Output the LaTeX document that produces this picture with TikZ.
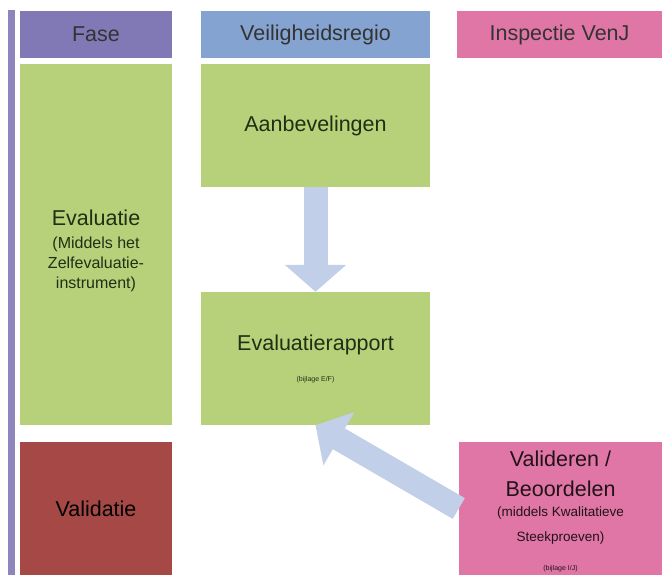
\documentclass[tikz,border=0pt]{standalone}
\usepackage{fontspec}
\setmainfont{Liberation Sans}
\usetikzlibrary{arrows.meta}
\definecolor{paars}{RGB}{128, 121, 181}
\definecolor{blauw}{RGB}{133, 163, 208}
\definecolor{roze}{RGB}{224, 118, 166}
\definecolor{groen}{RGB}{183, 209, 122}
\definecolor{rood}{RGB}{166, 73, 70}
\definecolor{pijl}{RGB}{193, 207, 233}
\definecolor{tekstgroen}{RGB}{30, 48, 20}

\tikzset{
  kop/.style={inner sep=0pt, text=black!80, font=\fontsize{21.5}{25}\selectfont},
  vak/.style={inner sep=0pt, align=center, font=\fontsize{21.5}{25}\selectfont},
  pijlvorm/.style={pijl, line width=24pt, -{Triangle[length=27pt, width=60pt]}}
}

\begin{document}
\begin{tikzpicture}[x=1pt, y=-1pt]
        \useasboundingbox (0,0) rectangle (662,575);
        \fill[paars!90] (8,10) rectangle (15,575);
        % kolomkoppen
        \node[kop, fill=paars, minimum width=152pt, minimum height=47pt] (fase) at (96,34.5) {Fase};
        \node[kop, fill=blauw, minimum width=229pt, minimum height=47pt] (regio) at (315.5,34.5) {Veiligheidsregio};
        \node[kop, fill=roze, minimum width=205pt, minimum height=47pt] (inspectie) at (559.5,34.5) {Inspectie VenJ};
        % fasen
        \node[vak, fill=groen, text=tekstgroen, minimum width=152pt, minimum height=361pt] (evaluatie) at (96,244.5)
            {\rule{0pt}{28pt}Evaluatie\\[-2pt] \fontsize{16}{20}\selectfont (Middels het\\[-5pt] \fontsize{16}{20}\selectfont Zelfevaluatie-\\[-5pt] \fontsize{16}{20}\selectfont instrument)};
        \node[vak, fill=rood, text=black, minimum width=152pt, minimum height=133pt] (validatie) at (96,508.5) {Validatie};
        % veiligheidsregio
        \node[vak, fill=groen, text=tekstgroen, minimum width=229pt, minimum height=123pt] (aanbevelingen) at (315.5,125.5) {Aanbevelingen};
        \node[vak, fill=groen, text=tekstgroen, minimum width=229pt, minimum height=133pt] (rapport) at (315.5,358.5)
            {Evaluatierapport\\[6pt] \fontsize{7}{8}\selectfont (bijlage E/F)};
        % inspectie
        \node[vak, fill=roze, text=black!85!roze, minimum width=203pt, minimum height=133pt] (valideren) at (560.5,508.5)
            {\rule{0pt}{22pt}Valideren /\\[5pt] Beoordelen\\[-5pt] \fontsize{13.5}{22}\selectfont (middels Kwalitatieve\\ \fontsize{13.5}{22}\selectfont Steekproeven)\\[4pt] \fontsize{7}{8}\selectfont (bijlage I/J)};
        % pijlen
        \draw[pijlvorm] (aanbevelingen.south) -- (rapport.north);
        \draw[pijlvorm] (valideren.west) -- (rapport.south);
    \end{tikzpicture}
\end{document}
